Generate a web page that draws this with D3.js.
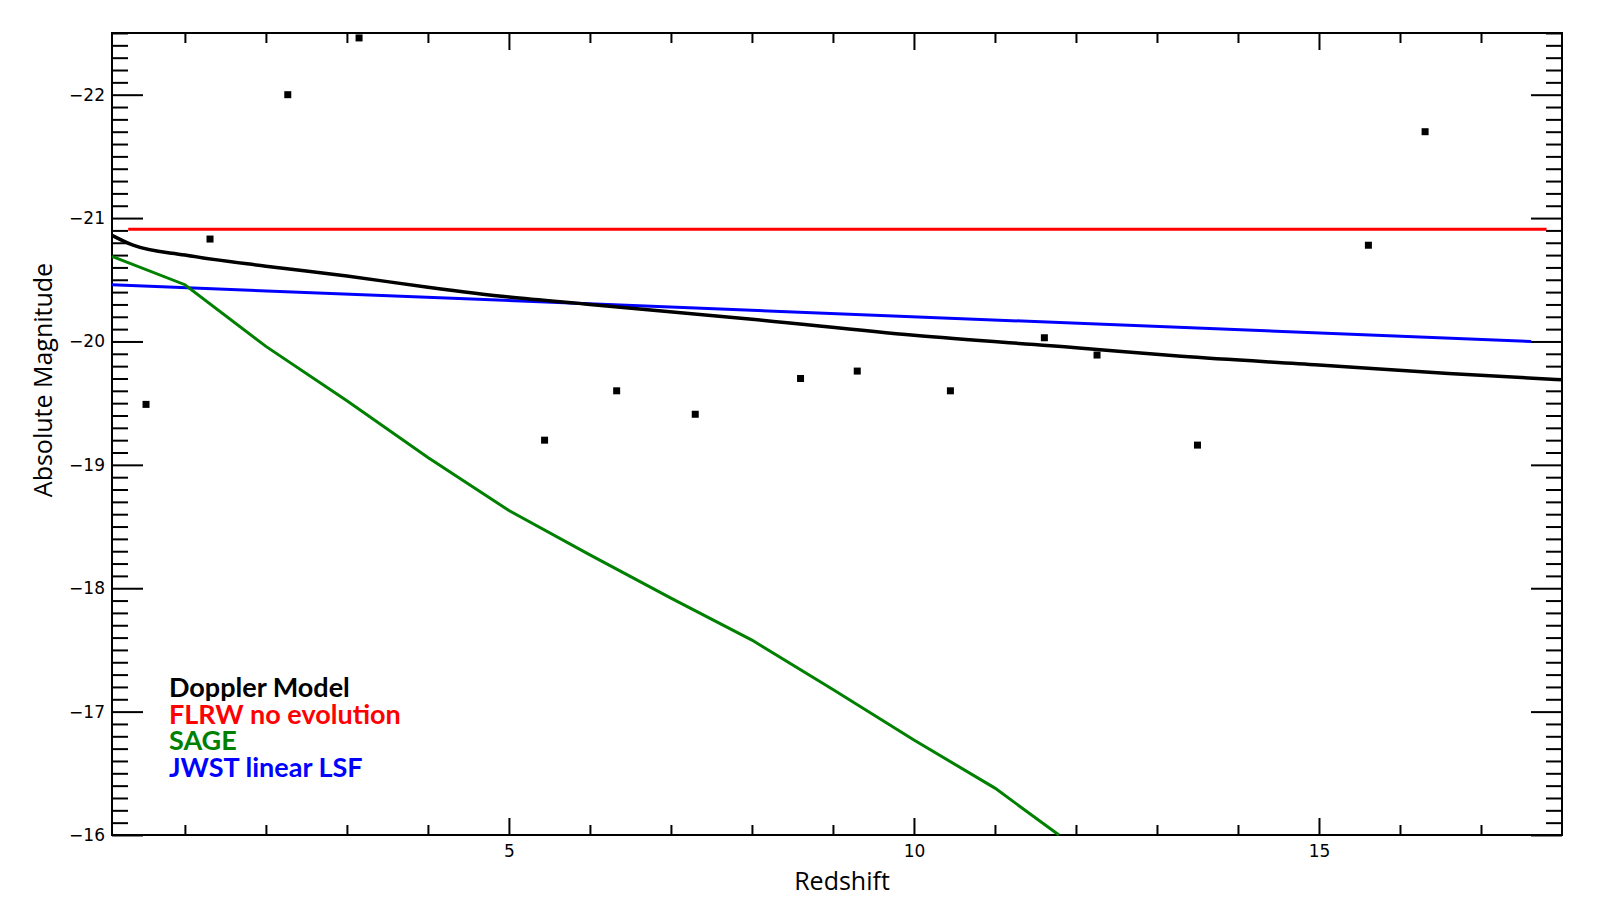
<!DOCTYPE html>
<html>
<head>
<meta charset="utf-8">
<script src="https://cdn.jsdelivr.net/npm/d3@7"></script>
<style>
  body { margin: 0; background: #fff; }
  svg { display: block; }
  .tick text { font-family: "DejaVu Sans", sans-serif; font-size: 17px; fill: #000; }
</style>
</head>
<body>
<div id="chart"></div>
<script>
// observed galaxies (redshift, absolute magnitude)
const obsZ   = [0.52, 1.31, 2.27, 3.15, 5.44, 6.33, 7.30, 8.60, 9.30, 10.45, 11.61, 12.26, 13.50, 15.61, 16.31];
const obsMag = [-19.49, -20.83, -22.00, -22.46, -19.20, -19.60, -19.41, -19.70, -19.76, -19.60, -20.03, -19.89, -19.16, -20.78, -21.70];

// Doppler model curve
const dopplerZ   = [0.1, 0.36, 1, 2, 3, 4, 5, 6, 8, 10, 12, 13.3, 15, 16.6, 18];
const dopplerMag = [-20.86, -20.78, -20.70, -20.61, -20.53, -20.44, -20.36, -20.30, -20.18, -20.05, -19.95, -19.88, -19.81, -19.74, -19.69];

// FLRW no evolution
const flrwZ   = [0.3, 17.81];
const flrwMag = [-20.91, -20.91];

// SAGE
const sageZ   = [0.1, 1, 2, 3, 4, 5, 6, 7, 8, 9, 10, 11, 11.79];
const sageMag = [-20.69, -20.46, -19.96, -19.52, -19.06, -18.63, -18.27, -17.92, -17.58, -17.18, -16.77, -16.38, -16.0];

// JWST linear LSF
const jwstZ   = [0.1, 17.62];
const jwstMag = [-20.46, -20.00];

const xMajor = [5, 10, 15];
const yMajor = [-22, -21, -20, -19, -18, -17, -16];

const legendLabels = ["Doppler Model", "FLRW no evolution", "SAGE", "JWST linear LSF"];
const legendColors = ["#000000", "#ff0000", "#008000", "#0000ff"];

const width = 1600, height = 900;
const margin = {top: 33, right: 38, bottom: 65, left: 112};

const svg = d3.select("#chart").append("svg")
    .attr("width", width)
    .attr("height", height);

const x = d3.scaleLinear().domain([0.1, 18]).range([margin.left, width - margin.right]);
const y = d3.scaleLinear().domain([-16, -22.5]).range([height - margin.bottom, margin.top]);

//minor tick positions
const xMinor = d3.range(1, 18).filter(v => !xMajor.includes(v));
const yMinor = d3.range(-225, -159).filter(v => v % 10 !== 0).map(v => v / 10);

const plotW = width - margin.left - margin.right;
const plotH = height - margin.top - margin.bottom;

function styleTicks(g) {
    g.select(".domain").remove();
    g.selectAll(".tick line").attr("stroke", "#000").attr("stroke-width", 2);
}

// bottom
svg.append("g").attr("transform", `translate(0,${height - margin.bottom})`)
    .call(d3.axisBottom(x).tickValues(xMinor).tickSize(-10).tickFormat(""))
    .call(styleTicks);
svg.append("g").attr("transform", `translate(0,${height - margin.bottom})`)
    .call(d3.axisBottom(x).tickValues(xMajor).tickSize(-17).tickPadding(10).tickFormat(d3.format("d")))
    .call(styleTicks);
// top
svg.append("g").attr("transform", `translate(0,${margin.top})`)
    .call(d3.axisTop(x).tickValues(xMinor).tickSize(-10).tickFormat(""))
    .call(styleTicks);
svg.append("g").attr("transform", `translate(0,${margin.top})`)
    .call(d3.axisTop(x).tickValues(xMajor).tickSize(-17).tickFormat(""))
    .call(styleTicks);
// left
svg.append("g").attr("transform", `translate(${margin.left},0)`)
    .call(d3.axisLeft(y).tickValues(yMinor).tickSize(-16).tickFormat(""))
    .call(styleTicks);
svg.append("g").attr("transform", `translate(${margin.left},0)`)
    .call(d3.axisLeft(y).tickValues(yMajor).tickSize(-31).tickPadding(7).tickFormat(d3.format("d")))
    .call(styleTicks);
// right
svg.append("g").attr("transform", `translate(${width - margin.right},0)`)
    .call(d3.axisRight(y).tickValues(yMinor).tickSize(-16).tickFormat(""))
    .call(styleTicks);
svg.append("g").attr("transform", `translate(${width - margin.right},0)`)
    .call(d3.axisRight(y).tickValues(yMajor).tickSize(-31).tickFormat(""))
    .call(styleTicks);

// frame
svg.append("rect")
    .attr("x", margin.left).attr("y", margin.top)
    .attr("width", plotW).attr("height", plotH)
    .attr("fill", "none").attr("stroke", "#000").attr("stroke-width", 2);

const line = d3.line().x(d => x(d[0])).y(d => y(d[1]));
const smooth = d3.line().x(d => x(d[0])).y(d => y(d[1])).curve(d3.curveMonotoneX);
const zip = (a, b) => a.map((v, i) => [v, b[i]]);

const series = [
    {z: flrwZ, m: flrwMag, color: "#ff0000", w: 3, gen: line},
    {z: jwstZ, m: jwstMag, color: "#0000ff", w: 3, gen: line},
    {z: sageZ, m: sageMag, color: "#008000", w: 3, gen: line},
    {z: dopplerZ, m: dopplerMag, color: "#000000", w: 3.5, gen: smooth}
];

svg.append("g").selectAll("path")
    .data(series)
    .enter().append("path")
    .attr("d", s => s.gen(zip(s.z, s.m)))
    .attr("fill", "none")
    .attr("stroke", s => s.color)
    .attr("stroke-width", s => s.w);

// observed points
const ms = 7;
svg.append("g").selectAll("rect")
    .data(zip(obsZ, obsMag))
    .enter().append("rect")
    .attr("x", d => x(d[0]) - ms / 2)
    .attr("y", d => y(d[1]) - ms / 2)
    .attr("width", ms).attr("height", ms)
    .attr("fill", "#000");

// axis titles
svg.append("text")
    .attr("x", (margin.left + width - margin.right) / 2 + 5)
    .attr("y", 890)
    .attr("text-anchor", "middle")
    .style("font-family", "'Open Sans', sans-serif")
    .style("font-size", "25px")
    .text("Redshift");

svg.append("text")
    .attr("transform", `translate(52,${380}) rotate(-90)`)
    .attr("text-anchor", "middle")
    .style("font-family", "'Open Sans', sans-serif")
    .style("font-size", "25px")
    .text("Absolute Magnitude");

// legend, one text block with a line per series
svg.append("text")
    .style("font-family", "Lato, sans-serif")
    .style("font-weight", "bold")
    .style("font-size", "27px")
    .selectAll("tspan")
    .data(legendLabels)
    .enter().append("tspan")
    .attr("x", 169)
    .attr("y", (d, i) => 697 + i * 26.5)
    .attr("fill", (d, i) => legendColors[i])
    .text(d => d);
</script>
</body>
</html>
